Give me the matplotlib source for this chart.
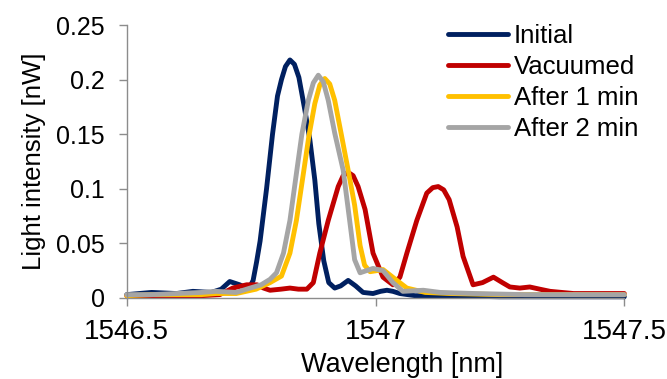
import matplotlib
matplotlib.use("Agg")
import matplotlib.pyplot as plt

plt.rcParams['font.family'] = ['Liberation Sans', 'DejaVu Sans']

# values
wl_initial = [1546.50, 1546.55, 1546.60, 1546.633, 1546.67, 1546.69, 1546.707, 1546.727, 1546.745,
              1546.754, 1546.761, 1546.768, 1546.781, 1546.793, 1546.803, 1546.811, 1546.819, 1546.828,
              1546.837, 1546.846, 1546.858, 1546.868, 1546.878, 1546.886, 1546.896, 1546.906, 1546.918,
              1546.93, 1546.945, 1546.96, 1546.975, 1546.995, 1547.01, 1547.023, 1547.035, 1547.049,
              1547.08, 1547.15, 1547.25, 1547.35, 1547.5]
int_initial = [0.003, 0.005, 0.004, 0.006, 0.005, 0.008, 0.015, 0.012, 0.008,
               0.016, 0.033, 0.052, 0.100, 0.150, 0.185, 0.200, 0.212, 0.218,
               0.214, 0.202, 0.172, 0.145, 0.108, 0.068, 0.034, 0.014, 0.009,
               0.011, 0.016, 0.011, 0.005, 0.004, 0.006, 0.007, 0.006, 0.004,
               0.002, 0.002, 0.001, 0.001, 0.001]

wl_vacuumed = [1546.50, 1546.55, 1546.60, 1546.65, 1546.687, 1546.713, 1546.741, 1546.762, 1546.775,
               1546.788, 1546.81, 1546.828, 1546.845, 1546.862, 1546.875, 1546.888, 1546.905, 1546.925,
               1546.935, 1546.945, 1546.955, 1546.965, 1546.979, 1546.995, 1547.015, 1547.035, 1547.049,
               1547.063, 1547.083, 1547.103, 1547.115, 1547.126, 1547.137, 1547.148, 1547.164, 1547.176,
               1547.196, 1547.215, 1547.237, 1547.255, 1547.27, 1547.29, 1547.31, 1547.33, 1547.351,
               1547.398, 1547.45, 1547.5]
int_vacuumed = [0.002, 0.002, 0.002, 0.002, 0.003, 0.009, 0.012, 0.012, 0.009,
                0.007, 0.008, 0.009, 0.008, 0.008, 0.014, 0.041, 0.071, 0.102,
                0.112, 0.115, 0.112, 0.102, 0.081, 0.041, 0.019, 0.012, 0.019,
                0.041, 0.071, 0.096, 0.101, 0.102, 0.099, 0.090, 0.065, 0.038,
                0.012, 0.014, 0.019, 0.014, 0.010, 0.009, 0.010, 0.008, 0.006,
                0.004, 0.004, 0.004]

wl_1min = [1546.50, 1546.55, 1546.60, 1546.65, 1546.68, 1546.72, 1546.76, 1546.788, 1546.811,
           1546.828, 1546.841, 1546.856, 1546.866, 1546.878, 1546.888, 1546.898, 1546.908, 1546.918,
           1546.932, 1546.945, 1546.958, 1546.969, 1546.978, 1546.989, 1547.003, 1547.015, 1547.029,
           1547.043, 1547.063, 1547.1, 1547.15, 1547.25, 1547.35, 1547.5]
int_1min = [0.002, 0.003, 0.003, 0.003, 0.004, 0.004, 0.008, 0.014, 0.020,
            0.041, 0.071, 0.117, 0.148, 0.178, 0.195, 0.201, 0.196, 0.181,
            0.148, 0.117, 0.085, 0.048, 0.030, 0.024, 0.025, 0.026, 0.021,
            0.016, 0.009, 0.005, 0.004, 0.003, 0.003, 0.003]

wl_2min = [1546.50, 1546.55, 1546.60, 1546.65, 1546.68, 1546.72, 1546.748, 1546.77, 1546.788,
           1546.801, 1546.815, 1546.828, 1546.841, 1546.852, 1546.865, 1546.875, 1546.885, 1546.895,
           1546.905, 1546.918, 1546.935, 1546.948, 1546.958, 1546.969, 1546.982, 1546.995, 1547.015,
           1547.035, 1547.055, 1547.096, 1547.13, 1547.2, 1547.3, 1547.5]
int_2min = [0.003, 0.003, 0.004, 0.005, 0.006, 0.005, 0.009, 0.012, 0.017,
            0.023, 0.041, 0.071, 0.114, 0.150, 0.181, 0.197, 0.204, 0.198,
            0.181, 0.151, 0.117, 0.071, 0.035, 0.023, 0.025, 0.027, 0.025,
            0.014, 0.006, 0.007, 0.005, 0.004, 0.003, 0.003]

labels = ['Initial', 'Vacuumed', 'After 1 min', 'After 2 min']
colors = ['#002060', '#C00000', '#FFC000', '#A5A5A5']

x_ticks = [1546.5, 1547, 1547.5]
x_ticklabels = ['1546.5', '1547', '1547.5']
y_ticks = [0, 0.05, 0.1, 0.15, 0.2, 0.25]
y_ticklabels = ['0', '0.05', '0.1', '0.15', '0.2', '0.25']

fig = plt.figure(figsize=(6.67, 3.79), dpi=100)
ax = fig.add_axes([0.190, 0.214, 0.746, 0.720])

series = [(wl_initial, int_initial), (wl_vacuumed, int_vacuumed),
          (wl_1min, int_1min), (wl_2min, int_2min)]
for (wl, val), lab, col in zip(series, labels, colors):
    ax.plot(wl, val, color=col, lw=3.5, label=lab, clip_on=False,
            solid_joinstyle='round', solid_capstyle='round')

ax.set_xlim(1546.5, 1547.5)
ax.set_ylim(0, 0.25)
ax.set_xticks(x_ticks)
ax.set_xticklabels(x_ticklabels)
ax.set_yticks(y_ticks)
ax.set_yticklabels(y_ticklabels)

for s in ['top', 'right']:
    ax.spines[s].set_visible(False)
for s in ['left', 'bottom']:
    ax.spines[s].set_color('#8C8C8C')
    ax.spines[s].set_linewidth(1.0)
ax.tick_params(axis='both', colors='#8C8C8C', labelcolor='black',
               length=6, width=1.0, direction='out')
ax.tick_params(axis='y', pad=10, labelsize=18)
ax.tick_params(axis='x', pad=9, labelsize=20)

ax.set_xlabel('Wavelength [nm]', fontsize=19.5)
ax.xaxis.set_label_coords(0.553, -0.20)
ax.set_ylabel('Light intensity [nW]', fontsize=18.5, labelpad=7)

fig.legend(loc='upper left', bbox_to_anchor=(448 / 667, 1 - 24 / 379), frameon=False,
           fontsize=18.5, handlelength=2.35, handletextpad=0.2, labelspacing=0.27,
           borderpad=0, borderaxespad=0)

fig.savefig('out.png', dpi=100)
